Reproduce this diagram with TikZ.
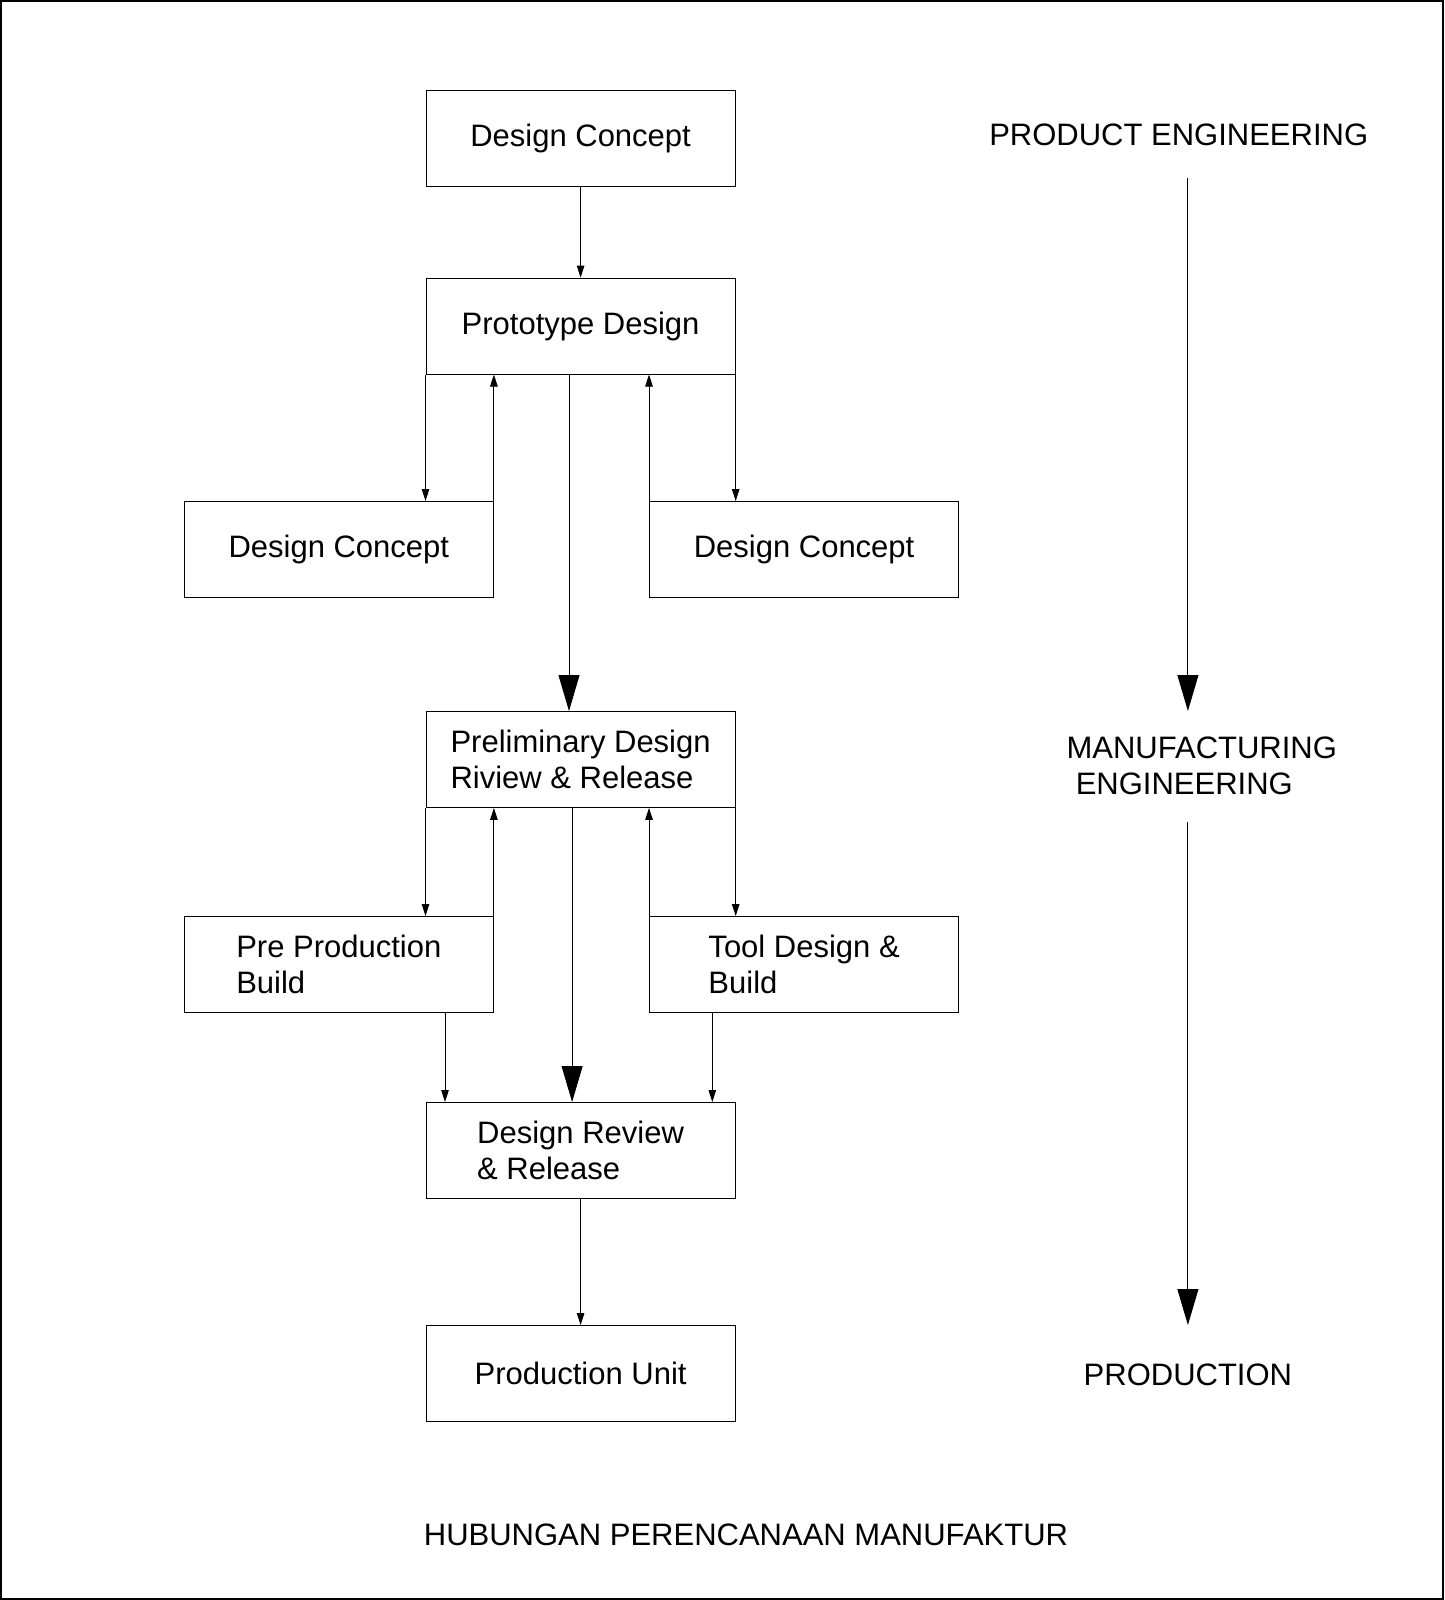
\documentclass[tikz,border=0pt]{standalone}
\usepackage{fontspec}
\setmainfont{Liberation Sans}
\usetikzlibrary{arrows.meta}
\begin{document}
\begin{tikzpicture}[x=1pt,y=-1pt,
  every node/.style={font=\fontsize{31}{35.5}\selectfont},
  box/.style={draw,line width=0.9pt,minimum width=309.3pt,minimum height=96pt,inner sep=0pt,align=left,anchor=north west},
  sm/.style={-{Triangle[length=12pt,width=7.5pt]},line width=0.9pt},
  big/.style={-{Triangle[length=36pt,width=21pt]},line width=0.9pt},
  lbl/.style={inner sep=0pt}]
\useasboundingbox (0,0) rectangle (1444,1600);
\draw[line width=1.4pt] (1,1) rectangle (1443,1599);
% boxes
\node[box] (dc1) at (425.5,89.8) {Design Concept};
\node[box] (pd) at (425.5,277.6) {Prototype Design};
\node[box] (dcl) at (183.7,501) {Design Concept};
\node[box] (dcr) at (649,501) {Design Concept};
\node[box] (pr) at (425.5,711) {Preliminary Design\\Riview \& Release};
\node[box] (ppb) at (183.7,916) {Pre Production\\Build};
\node[box] (tdb) at (649,916) {Tool Design \&\\Build};
\node[box] (dr) at (425.5,1102) {Design Review\\\& Release};
\node[box] (pu) at (425.5,1325) {Production Unit};
% connectors
\draw[sm] (dc1.south) -- (pd.north);
\draw[sm] (pd.south west) -- (pd.south west |- dcl.north);
\draw[sm] (dcl.north east) -- (dcl.north east |- pd.south);
\draw[sm] (dcr.north west) -- (dcr.north west |- pd.south);
\draw[sm] (pd.south east) -- (pd.south east |- dcr.north);
\draw[big] ([xshift=-11.6pt]pd.south) -- ([xshift=-11.6pt]pd.south |- pr.north);
\draw[sm] (pr.south west) -- (pr.south west |- ppb.north);
\draw[sm] (ppb.north east) -- (ppb.north east |- pr.south);
\draw[sm] (tdb.north west) -- (tdb.north west |- pr.south);
\draw[sm] (pr.south east) -- (pr.south east |- tdb.north);
\draw[big] ([xshift=-8.5pt]pr.south) -- ([xshift=-8.5pt]pr.south |- dr.north);
\draw[sm] ([xshift=261.3pt]ppb.south west) -- ([xshift=261.3pt]ppb.south west |- dr.north);
\draw[sm] ([xshift=63.3pt]tdb.south west) -- ([xshift=63.3pt]tdb.south west |- dr.north);
\draw[sm] (dr.south) -- (pu.north);
% right column
\node[lbl] (pe) at (1178.7,134.7) {PRODUCT ENGINEERING};
\node[lbl,align=left,anchor=west] (me) at (1066.4,766) {MANUFACTURING\\\hspace*{9.2pt}ENGINEERING};
\node[lbl] (pn) at (1187.9,1374.6) {PRODUCTION};
\coordinate (a1) at (1187.9,177.6);
\coordinate (a2) at (1187.9,711);
\coordinate (b1) at (1187.9,821.5);
\coordinate (b2) at (1187.9,1325);
\draw[big] (a1) -- (a2);
\draw[big] (b1) -- (b2);
% title
\node[lbl] (title) at (746,1535) {HUBUNGAN PERENCANAAN MANUFAKTUR};
\end{tikzpicture}
\end{document}
